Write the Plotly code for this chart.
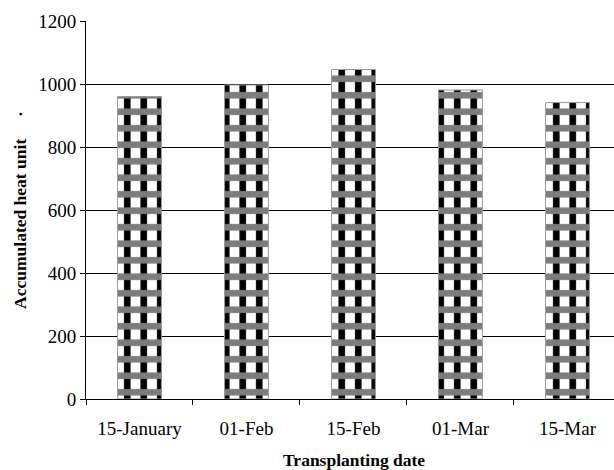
import plotly.graph_objects as go

# Accumulated heat units by transplanting date
dates = ["15-January", "01-Feb", "15-Feb", "01-Mar", "15-Mar"]
heat_units = [960, 997, 1046, 981, 941]

y_ticks = [0, 200, 400, 600, 800, 1000, 1200]

SERIF = "Liberation Serif, Times New Roman, serif"

fig = go.Figure()

# base layer: black vertical bars on white
fig.add_trace(go.Bar(
    x=dates, y=heat_units, width=0.41,
    marker=dict(
        color="white",
        line=dict(width=0),
        pattern=dict(shape="|", fgcolor="black", bgcolor="white",
                     fgopacity=1, size=16.5, solidity=0.4, fillmode="replace"),
    ),
    hoverinfo="skip", showlegend=False,
))
# overlay: grey horizontal bands, giving the chequered fill
fig.add_trace(go.Bar(
    x=dates, y=heat_units, width=0.41,
    marker=dict(
        color="rgba(0,0,0,0)",
        line=dict(width=1, color="#9a9a9a"),
        pattern=dict(shape="-", fgcolor="#7c7c7c", bgcolor="rgba(0,0,0,0)",
                     fgopacity=1, size=16.5, solidity=0.4, fillmode="replace"),
    ),
    showlegend=False,
))

fig.update_layout(
    width=614, height=470,
    margin=dict(l=85.5, r=0, t=21, b=71),
    paper_bgcolor="white", plot_bgcolor="white",
    barmode="overlay",
    font=dict(family=SERIF, size=19, color="black"),
    xaxis=dict(
        type="category",
        range=[-0.5, 4.435],
        automargin=False,
        tickson="boundaries",
        ticks="outside", ticklen=5, tickcolor="black", tickwidth=1,
        showline=True, linecolor="black", linewidth=1,
        showgrid=False,
        tickfont=dict(family=SERIF, size=19),
        ticklabelstandoff=12,
    ),
    yaxis=dict(
        range=[0, 1200],
        tickvals=y_ticks,
        automargin=False,
        ticks="outside", ticklen=5, tickcolor="black", tickwidth=1,
        showline=True, linecolor="black", linewidth=1,
        showgrid=True, gridcolor="black", gridwidth=1,
        zeroline=False,
        tickfont=dict(family=SERIF, size=19),
        title=dict(text="<b>Accumulated heat unit\u00a0\u00a0\u00a0\u00a0\u00a0·</b>",
                   font=dict(family=SERIF, size=17.5), standoff=7),
    ),
    annotations=[dict(
        text="<b>Transplanting date</b>",
        xref="paper", yref="paper", x=0.508, y=0,
        xanchor="center", yanchor="middle", yshift=-61,
        showarrow=False, font=dict(family=SERIF, size=17.5),
    )],
)

fig.write_html("out.html")
